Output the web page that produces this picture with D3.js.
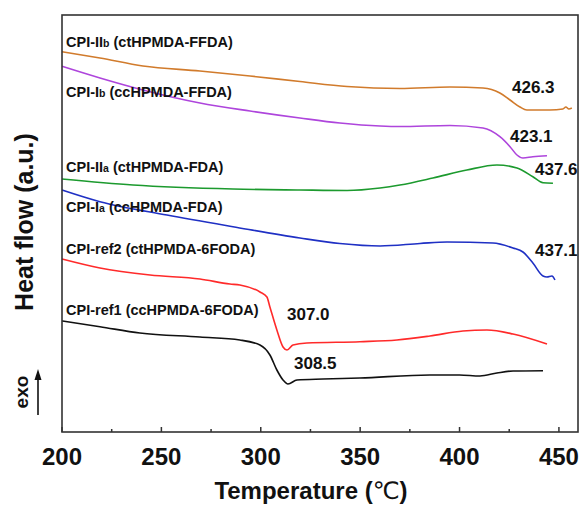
<!DOCTYPE html>
<html><head><meta charset="utf-8">
<script src="https://cdn.jsdelivr.net/npm/d3@7"></script>
<style>body{margin:0;background:#fff}svg{display:block}</style>
</head><body>
<svg id="c" width="579" height="507"></svg>
<script>
// Data (Temperature in °C, heat flow in arbitrary units, offset per curve)
const xTicks = [200, 250, 300, 350, 400, 450];
const xMinorTicks = [225, 275, 325, 375, 425];

const orangeT = [200,219.1,240.7,269.4,294.6,319.7,343.4,370,395.2,411.8,420.3,425.4,430.4,433.9,445.5,452,453.5,455,456.5];
const orangeY = [380.3,374,366,361,356,350.5,345.5,343.5,345,344,339,332,325,322,322,323,325,323,324];

const purpleT = [200,219.1,240.7,269.4,294.6,319.7,339.8,360,370,395.2,411.8,420.3,425.4,428.9,431.9,436.9,444];
const purpleY = [365.7,354,342,329,321,314,309,306,305.5,306.5,304,295.3,285.3,277,274,275.3,276.3];

const greenT = [200,235.7,286,319.7,343.4,360,370,386.6,403.7,418.8,428.9,436.9,442,447];
const greenY = [253,247,243,242,241.5,244,247,254,262,267,264,255.3,249.3,248.7];

const blueT = [200,219.1,252.8,286,319.7,339.8,360,380.1,393.7,416.8,426.9,431.9,436.9,442,444,446.5,448];
const blueY = [242,230.3,217,205.3,194,188.5,186,188.5,190,189,184,180,169,156,155,156,152];

const redT = [200,219.1,244.3,269.4,284.5,289.5,299.6,303.1,304.6,308.1,311.2,313.2,316.2,323.2,349.9,368.5,385.1,401.7,413.8,426.9,444];
const redY = [173,164,157,153,148,147,140,135,125,102,85,82,87,89,90.3,92,96,101,102,98,88];

const blackT = [200,219.1,239.2,269.4,289.5,299.6,304.6,308.1,311.2,313.7,318.2,331.3,349.9,385.1,400,410.3,418.8,426.9,442];
const blackY = [111,105.3,99,95,92,87,77,62,52,48,52,53,54,57,57,56,59,61,61.3];

const seriesNames = ["CPI-IIb (ctHPMDA-FFDA)","CPI-Ib (ccHPMDA-FFDA)","CPI-IIa (ctHPMDA-FDA)","CPI-Ia (ccHPMDA-FDA)","CPI-ref2 (ctHPMDA-6FODA)","CPI-ref1 (ccHPMDA-6FODA)"];
const peakLabels = ["426.3","423.1","437.6","437.1","307.0","308.5"];

const svg = d3.select("#c");
const L = 62, R = 578, T = 15, B = 432;
const x = d3.scaleLinear().domain([200, 459.6]).range([L, R]);
const y = d3.scaleLinear().domain([0, 417]).range([B, T]);

const series = [
  {t: orangeT, v: orangeY, color: "#d17b2c"},
  {t: purpleT, v: purpleY, color: "#ae45dc"},
  {t: greenT, v: greenY, color: "#1c9a2e"},
  {t: blueT, v: blueY, color: "#1f30c4"},
  {t: redT, v: redY, color: "#ff2a2a"},
  {t: blackT, v: blackY, color: "#111111"}
];

const line = d3.line().x(d => x(d[0])).y(d => y(d[1])).curve(d3.curveMonotoneX);
series.forEach(s => {
  svg.append("path")
    .attr("d", line(s.t.map((t, i) => [t, s.v[i]])))
    .attr("fill", "none").attr("stroke", s.color).attr("stroke-width", 1.6);
});

// Frame
svg.append("rect").attr("x", L).attr("y", T).attr("width", R - L).attr("height", B - T)
  .attr("fill", "none").attr("stroke", "#333").attr("stroke-width", 1.6);

// Bottom axis (ticks inward)
const ax = svg.append("g").attr("transform", `translate(0,${B})`);
ax.selectAll("line.maj").data(xTicks).enter().append("line")
  .attr("x1", d => x(d)).attr("x2", d => x(d)).attr("y1", 0).attr("y2", -5)
  .attr("stroke", "#333").attr("stroke-width", 1.5);
ax.selectAll("line.min").data(xMinorTicks).enter().append("line")
  .attr("x1", d => x(d)).attr("x2", d => x(d)).attr("y1", 0).attr("y2", -3)
  .attr("stroke", "#333").attr("stroke-width", 1.5);
ax.selectAll("text").data(xTicks).enter().append("text")
  .attr("x", d => x(d)).attr("y", 33).attr("text-anchor", "middle")
  .attr("font-family", "Liberation Sans, Arial, sans-serif").attr("font-weight", "bold")
  .attr("font-size", 24).attr("fill", "#111").text(d => d);

// Axis titles
const xt = svg.append("text").attr("x", 311).attr("y", 499).attr("text-anchor", "middle")
  .attr("font-family", "Liberation Sans, Arial, sans-serif").attr("font-weight", "bold")
  .attr("font-size", 24).attr("fill", "#111");
xt.append("tspan").text("Temperature (");
xt.append("tspan").attr("font-family", "DejaVu Sans").attr("font-weight", "normal").text("℃");
xt.append("tspan").text(")");

svg.append("text").attr("transform", "translate(33,222) rotate(-90)").attr("text-anchor", "middle")
  .attr("font-family", "Liberation Sans, Arial, sans-serif").attr("font-weight", "bold")
  .attr("font-size", 25).attr("fill", "#111").text("Heat flow (a.u.)");

// exo arrow
svg.append("text").attr("transform", "translate(28,392) rotate(-90)").attr("text-anchor", "middle")
  .attr("font-family", "Liberation Sans, Arial, sans-serif").attr("font-weight", "bold")
  .attr("font-size", 19).attr("fill", "#111").text("exo");
svg.append("line").attr("x1", 38).attr("x2", 38).attr("y1", 415).attr("y2", 378)
  .attr("stroke", "#111").attr("stroke-width", 1.6);
svg.append("path").attr("d", "M38,369 L34.5,380 L41.5,380 Z").attr("fill", "#111");

// Curve labels
const lblPos = [[66,47,"IIb"],[66,97,"Ib"],[66,172,"IIa"],[66,212,"Ia"],[66,254,null],[66,315,null]];
seriesNames.forEach((n, i) => {
  const [lx, ly, roman] = lblPos[i];
  const t = svg.append("text").attr("x", lx).attr("y", ly)
    .attr("font-family", "Liberation Sans, Arial, sans-serif").attr("font-weight", "bold")
    .attr("font-size", 14.5).attr("fill", "#111");
  if (roman) {
    const rest = n.slice(4 + roman.length);
    t.append("tspan").text("CPI-" + roman.slice(0, -1));
    t.append("tspan").attr("font-size", 10.5).text(roman.slice(-1));
    t.append("tspan").text(rest);
  } else {
    t.text(n);
  }
});

// Peak labels
const peakPos = [[512,93],[510,142],[535,175],[535,256],[287,320],[294,369]];
peakLabels.forEach((p, i) => {
  svg.append("text").attr("x", peakPos[i][0]).attr("y", peakPos[i][1])
    .attr("font-family", "Liberation Sans, Arial, sans-serif").attr("font-weight", "bold")
    .attr("font-size", 17).attr("fill", "#111").text(p);
});
</script>
</body></html>
